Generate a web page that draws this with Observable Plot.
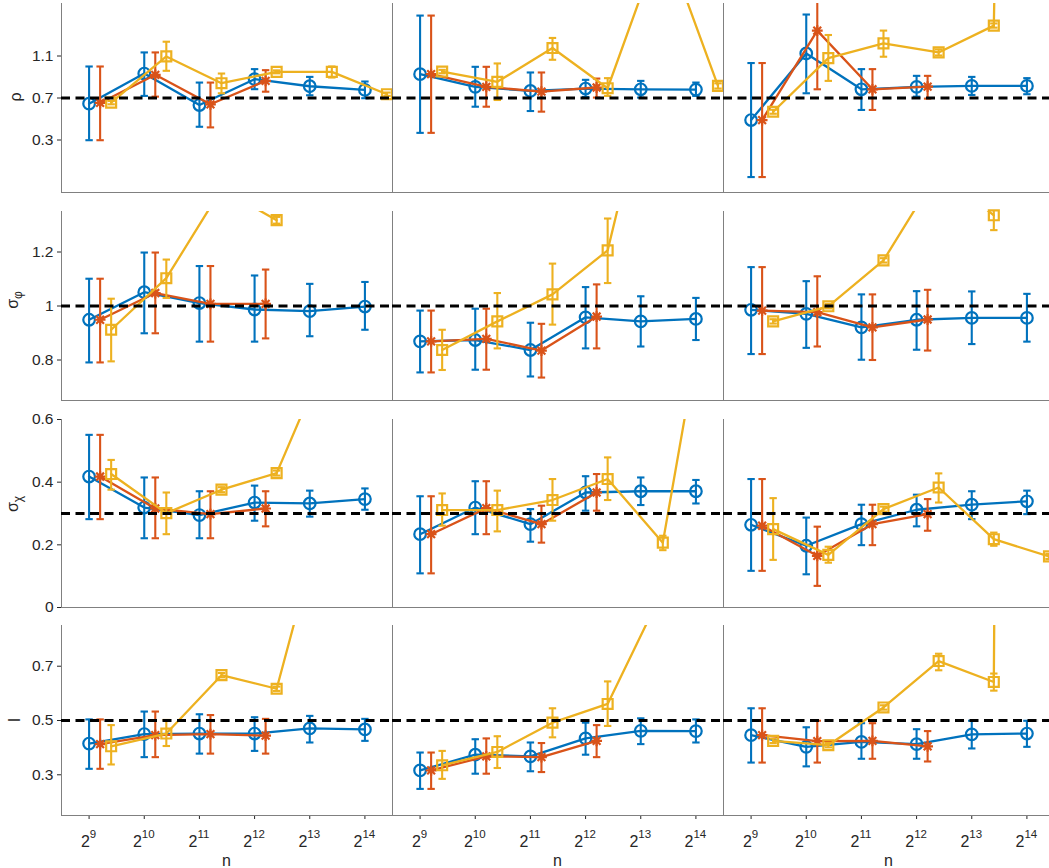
<!DOCTYPE html>
<html><head><meta charset="utf-8">
<script src="https://cdn.jsdelivr.net/npm/d3@7"></script>
<script src="https://cdn.jsdelivr.net/npm/@observablehq/plot@0.6"></script>
<style>
body{margin:0;background:#fff;}
#wrap{position:relative;width:1049px;height:868px;overflow:hidden;background:#fff;}
#wrap svg{position:absolute;overflow:visible;}
</style></head><body><div id="wrap"></div>
<script>
// ---------- axes / categories ----------
const log2n = [9, 10, 11, 12, 13, 14];            // n = 2^k
const xTickExponents = ["9", "10", "11", "12", "13", "14"];
const xDomain = [8.5, 14.5];
const rowKeys = ["rho", "sigmaPhi", "sigmaChi", "l"];
const refValues = [0.7, 1, 0.3, 0.5];
const yDomains = [[-0.2, 1.6], [0.65, 1.35], [0, 0.6], [0.15, 0.85]];
const yTicks = [[0.3, 0.7, 1.1], [0.8, 1, 1.2], [0, 0.2, 0.4, 0.6], [0.3, 0.5, 0.7]];

// ---------- rho (3 panels each) ----------
const rhoBlue   = [[0.646,0.933,0.633,0.879,0.812,0.777],[0.927,0.806,0.767,0.790,0.783,0.780],[0.490,1.124,0.783,0.806,0.815,0.815]];
const rhoBlueLo = [[0.298,0.720,0.426,0.784,0.726,0.698],[0.368,0.617,0.576,0.710,0.704,0.720],[-0.053,0.745,0.586,0.713,0.729,0.736]];
const rhoBlueHi = [[1.000,1.134,0.847,0.975,0.901,0.857],[1.485,0.997,0.943,0.873,0.863,0.847],[1.033,1.495,0.975,0.911,0.901,0.889]];
const rhoOrange   = [[0.653,0.921,0.640,0.863],[0.927,0.806,0.761,0.800],[0.490,1.342,0.783,0.809]];
const rhoOrangeLo = [[0.298,0.713,0.420,0.760],[0.368,0.617,0.570,0.704],[-0.053,0.783,0.586,0.694]];
const rhoOrangeHi = [[1.000,1.134,0.847,0.965],[1.485,0.997,0.943,0.885],[1.033,1.750,0.975,0.911]];
const rhoYellow   = [[0.656,1.096,0.841,0.949,0.949,0.736],[0.952,0.854,1.176,0.793,2.25,0.815],[0.569,1.080,1.220,1.134,1.389,30]];
const rhoYellowLo = [[0.640,0.959,0.745,0.935,0.895,0.720],[0.935,0.681,1.064,0.720,2.20,0.790],[0.550,0.863,1.093,1.105,1.370,29]];
const rhoYellowHi = [[0.672,1.236,0.933,0.963,1.000,0.752],[0.968,1.029,1.272,0.889,2.30,0.840],[0.588,1.300,1.342,1.163,1.410,31]];

// ---------- sigma_phi ----------
const sigmaPhiBlue   = [[0.949,1.051,1.011,0.987,0.981,0.998],[0.869,0.874,0.837,0.958,0.943,0.952],[0.986,0.971,0.921,0.949,0.956,0.956]];
const sigmaPhiBlueLo = [[0.791,0.899,0.868,0.868,0.888,0.912],[0.754,0.764,0.739,0.843,0.850,0.874],[0.822,0.845,0.801,0.838,0.859,0.868]];
const sigmaPhiBlueHi = [[1.101,1.198,1.148,1.113,1.082,1.089],[0.983,0.990,0.938,1.070,1.036,1.030],[1.144,1.092,1.043,1.055,1.054,1.045]];
const sigmaPhiOrange   = [[0.949,1.048,1.008,1.008],[0.869,0.878,0.835,0.961],[0.983,0.977,0.921,0.950]];
const sigmaPhiOrangeLo = [[0.791,0.899,0.868,0.880],[0.754,0.764,0.735,0.843],[0.822,0.850,0.800,0.835]];
const sigmaPhiOrangeHi = [[1.101,1.198,1.148,1.135],[0.983,0.990,0.934,1.080],[1.144,1.110,1.043,1.060]];
const sigmaPhiYellow   = [[0.912,1.103,1.433,1.318,null,null],[0.837,0.943,1.043,1.206,2.05,null],[0.943,0.999,1.169,1.50,1.336,null]];
const sigmaPhiYellowLo = [[0.795,1.030,1.420,1.305,null,null],[0.763,0.843,0.931,1.085,2.00,null],[0.935,0.991,1.161,1.48,1.281,null]];
const sigmaPhiYellowHi = [[1.027,1.172,1.450,1.330,null,null],[0.912,1.048,1.157,1.324,2.10,null],[0.951,1.007,1.177,1.52,1.390,null]];

// ---------- sigma_chi ----------
const sigmaChiBlue   = [[0.418,0.319,0.295,0.335,0.332,0.346],[0.234,0.319,0.266,0.367,0.371,0.371],[0.264,0.197,0.266,0.312,0.328,0.339]];
const sigmaChiBlueLo = [[0.282,0.221,0.221,0.277,0.290,0.312],[0.109,0.234,0.210,0.309,0.327,0.332],[0.117,0.106,0.199,0.259,0.282,0.298]];
const sigmaChiBlueHi = [[0.551,0.415,0.371,0.389,0.373,0.380],[0.355,0.403,0.314,0.419,0.415,0.407],[0.410,0.287,0.328,0.360,0.371,0.373]];
const sigmaChiOrange   = [[0.418,0.316,0.298,0.316],[0.234,0.317,0.266,0.367],[0.261,0.165,0.266,0.298]];
const sigmaChiOrangeLo = [[0.282,0.221,0.221,0.259],[0.109,0.234,0.207,0.309],[0.117,0.069,0.199,0.245]];
const sigmaChiOrangeHi = [[0.551,0.415,0.371,0.371],[0.355,0.403,0.325,0.426],[0.410,0.258,0.328,0.346]];
const sigmaChiYellow   = [[0.426,0.301,0.376,0.429,0.84,null],[0.311,0.311,0.343,0.410,0.207,1.21],[0.250,0.168,0.314,0.383,0.218,0.163]];
const sigmaChiYellowLo = [[0.376,0.234,0.368,0.421,0.82,null],[0.261,0.243,0.277,0.343,0.183,1.18],[0.152,0.143,0.306,0.335,0.197,0.155]];
const sigmaChiYellowHi = [[0.471,0.367,0.384,0.437,0.86,null],[0.364,0.373,0.410,0.479,0.229,1.24],[0.349,0.194,0.322,0.428,0.239,0.171]];

// ---------- l ----------
const lBlue   = [[0.415,0.450,0.452,0.452,0.471,0.467],[0.316,0.374,0.368,0.434,0.462,0.461],[0.446,0.403,0.421,0.413,0.449,0.452]];
const lBlueLo = [[0.322,0.365,0.378,0.388,0.419,0.425],[0.248,0.304,0.313,0.374,0.413,0.419],[0.345,0.331,0.359,0.359,0.397,0.403]];
const lBlueHi = [[0.504,0.533,0.523,0.512,0.517,0.506],[0.382,0.431,0.419,0.492,0.508,0.504],[0.545,0.475,0.490,0.468,0.499,0.499]];
const lOrange   = [[0.413,0.446,0.450,0.444],[0.316,0.368,0.365,0.425],[0.446,0.424,0.425,0.405]];
const lOrangeLo = [[0.322,0.365,0.378,0.378],[0.248,0.304,0.310,0.365],[0.345,0.345,0.359,0.349]];
const lOrangeHi = [[0.504,0.533,0.520,0.506],[0.382,0.434,0.417,0.483],[0.545,0.499,0.490,0.461]];
const lYellow   = [[0.405,0.452,0.667,0.617,1.375,null],[0.335,0.384,0.492,0.561,0.98,null],[0.425,0.409,0.548,0.719,0.642,30]];
const lYellowLo = [[0.338,0.406,0.659,0.609,1.350,null],[0.285,0.325,0.438,0.480,0.95,null],[0.417,0.401,0.540,0.685,0.610,29]];
const lYellowHi = [[0.483,0.502,0.675,0.625,1.400,null],[0.388,0.442,0.545,0.644,1.01,null],[0.433,0.417,0.556,0.746,0.673,31]];

const DATA = {
  rho:      {blue:[rhoBlue,rhoBlueLo,rhoBlueHi], orange:[rhoOrange,rhoOrangeLo,rhoOrangeHi], yellow:[rhoYellow,rhoYellowLo,rhoYellowHi]},
  sigmaPhi: {blue:[sigmaPhiBlue,sigmaPhiBlueLo,sigmaPhiBlueHi], orange:[sigmaPhiOrange,sigmaPhiOrangeLo,sigmaPhiOrangeHi], yellow:[sigmaPhiYellow,sigmaPhiYellowLo,sigmaPhiYellowHi]},
  sigmaChi: {blue:[sigmaChiBlue,sigmaChiBlueLo,sigmaChiBlueHi], orange:[sigmaChiOrange,sigmaChiOrangeLo,sigmaChiOrangeHi], yellow:[sigmaChiYellow,sigmaChiYellowLo,sigmaChiYellowHi]},
  l:        {blue:[lBlue,lBlueLo,lBlueHi], orange:[lOrange,lOrangeLo,lOrangeHi], yellow:[lYellow,lYellowLo,lYellowHi]}
};

// ---------- styling ----------
const capSymbol = {draw(ctx, size) { const w = Math.sqrt(size / Math.PI); ctx.moveTo(-w, 0); ctx.lineTo(w, 0); }};
const starSymbol = {draw(ctx, size) {
  const r = Math.sqrt(size / Math.PI), d = r * 0.72;
  ctx.moveTo(-d, -d); ctx.lineTo(d, d); ctx.moveTo(-d, d); ctx.lineTo(d, -d);
  ctx.moveTo(0, -r); ctx.lineTo(0, r); ctx.moveTo(-r, 0); ctx.lineTo(r, 0);
}};
const series = [
  {key: "blue",   color: "#0072BD", symbol: "circle",   r: 5.8, offset: 0},
  {key: "orange", color: "#D95319", symbol: starSymbol, r: 5.4, offset: 0.2},
  {key: "yellow", color: "#EDB120", symbol: "square",   r: 5.6, offset: 0.4}
];
const FONT = "'Liberation Sans', Arial, Helvetica, sans-serif";
const colLeft = [61, 392, 723], panelW = 331;
const rowTop = [3, 211, 419, 625], rowH = [189, 189, 188, 190];
const yLabels = [
  {main: "ρ", sub: null, x: 21, y: 97},
  {main: "σ", sub: "φ", x: 18, y: 300},
  {main: "σ", sub: "χ", x: 18, y: 504},
  {main: "l", sub: null, x: 20, y: 720}
];

const wrap = document.getElementById("wrap");

rowKeys.forEach((key, ri) => {
  const yd = yDomains[ri];
  for (let ci = 0; ci < 3; ci++) {
    const isLeft = ci === 0, isBottom = ri === 3;
    const mL = 61, mT = 3, mR = 8, mB = isBottom ? 60 : 4;
    const H = rowH[ri];
    const marks = [];
    // panel borders (left, right, bottom)
    marks.push(Plot.ruleX(xDomain, {stroke: "#808080", strokeWidth: 1}));
    marks.push(Plot.ruleY([yd[0]], {stroke: "#808080", strokeWidth: 1}));
    series.forEach(s => {
      const [vals, los, his] = DATA[key][s.key].map(a => a[ci]);
      const pts = vals.map((v, i) => ({x: log2n[i] + s.offset, y: v, lo: los[i], hi: his[i]}));
      const bars = pts.filter(d => d.lo != null && d.hi != null);
      const visible = pts.filter(d => d.y != null && d.y >= yd[0] && d.y <= yd[1]);
      marks.push(Plot.line(pts, {x: "x", y: "y", stroke: s.color, strokeWidth: 2.3, clip: true}));
      marks.push(Plot.ruleX(bars, {x: "x", y1: "lo", y2: "hi", stroke: s.color, strokeWidth: 2.1, clip: true}));
      marks.push(Plot.dot(bars, {x: "x", y: "lo", symbol: capSymbol, r: 3.7, fill: "none", stroke: s.color, strokeWidth: 2.1, clip: true}));
      marks.push(Plot.dot(bars, {x: "x", y: "hi", symbol: capSymbol, r: 3.7, fill: "none", stroke: s.color, strokeWidth: 2.1, clip: true}));
      marks.push(Plot.dot(visible, {x: "x", y: "y", symbol: s.symbol, r: s.r, fill: "none", stroke: s.color, strokeWidth: 2.2}));
    });
    marks.push(Plot.ruleY([refValues[ri]], {stroke: "#000", strokeWidth: 2.8, strokeDasharray: "9,5.5"}));

    const plot = Plot.plot({
      width: mL + panelW + mR,
      height: mT + H + mB,
      marginLeft: mL, marginRight: mR, marginTop: mT, marginBottom: mB,
      x: {domain: xDomain, ticks: log2n, tickFormat: () => "", tickSize: 4, label: null, axis: isBottom ? "bottom" : null},
      y: {domain: yd, ticks: yTicks[ri], tickFormat: d => String(d), tickSize: 4, tickPadding: 4, label: null, axis: isLeft ? "left" : null},
      style: {background: "transparent", fontFamily: FONT, fontSize: "15.5px", color: "#262626", overflow: "visible"},
      marks
    });
    plot.style.left = (colLeft[ci] - mL) + "px";
    plot.style.top = (rowTop[ri] - mT) + "px";
    wrap.appendChild(plot);
    const svg = d3.select(plot);

    if (isBottom) {
      const xs = plot.scale("x");
      log2n.forEach((k, i) => {
        const t = svg.append("text")
          .attr("x", xs.apply(k)).attr("y", mT + H + 32)
          .attr("text-anchor", "middle").attr("fill", "#262626")
          .style("font-family", FONT).style("font-size", "16px");
        t.append("tspan").text("2");
        t.append("tspan").attr("dy", -9).style("font-size", "11.5px").text(xTickExponents[i]);
      });
      svg.append("text")
        .attr("x", mL + panelW / 2).attr("y", mT + H + 51)
        .attr("text-anchor", "middle").attr("fill", "#262626")
        .style("font-family", FONT).style("font-size", "16px").text("n");
    }
    if (isLeft) {
      const lab = yLabels[ri];
      const t = svg.append("text")
        .attr("transform", `translate(${lab.x},${lab.y - (rowTop[ri] - mT)}) rotate(-90)`)
        .attr("text-anchor", "middle").attr("fill", "#262626")
        .style("font-family", FONT).style("font-size", "16px");
      t.append("tspan").text(lab.main);
      if (lab.sub) t.append("tspan").attr("dy", 4).style("font-size", "12px").text(lab.sub);
    }
  }
});
</script>
</body></html>
